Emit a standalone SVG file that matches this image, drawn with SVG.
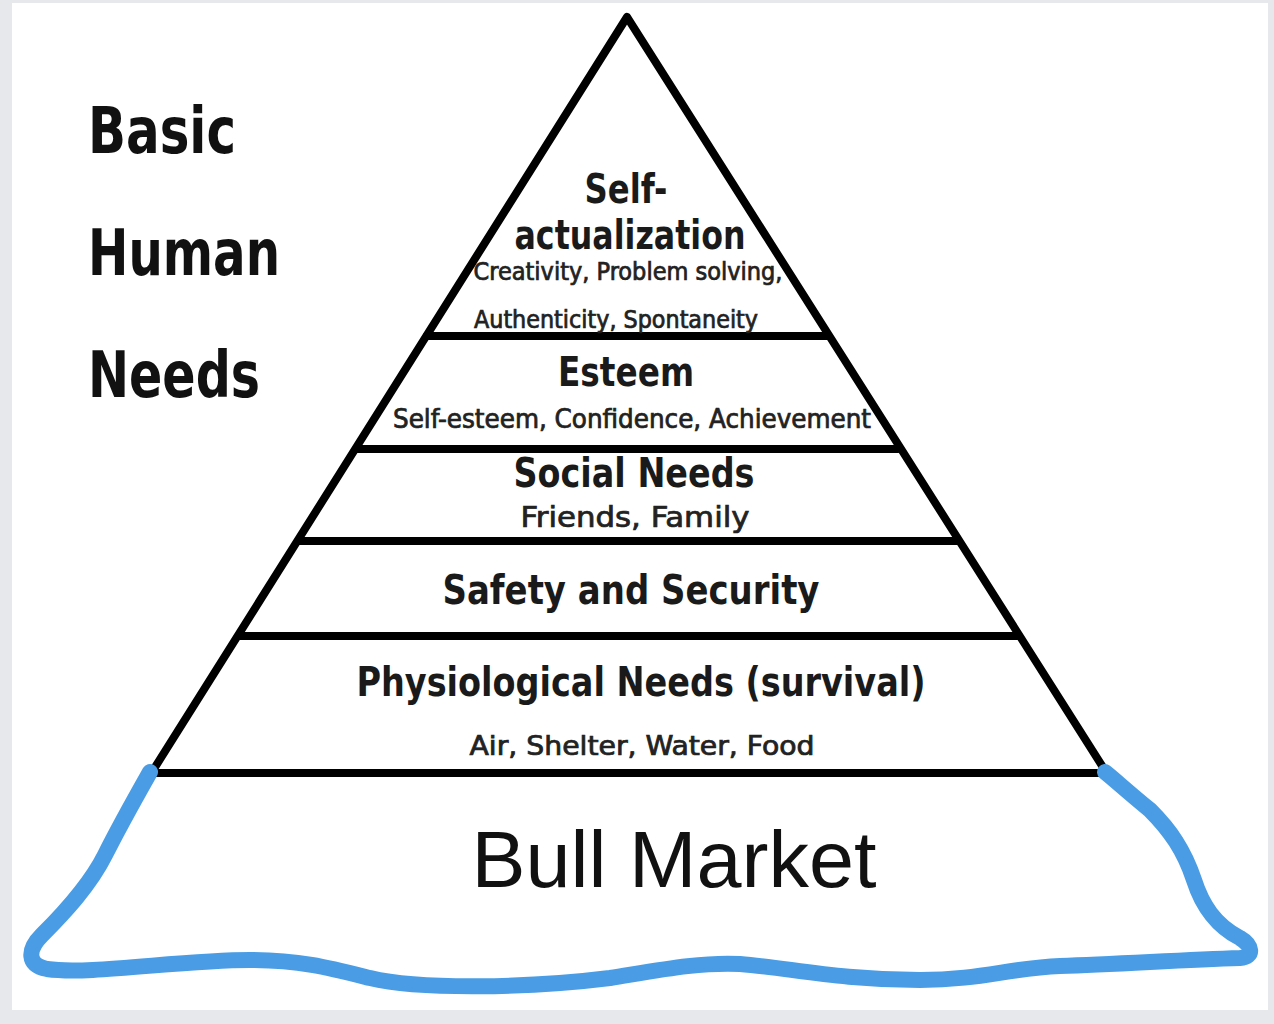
<svg xmlns="http://www.w3.org/2000/svg" width="1274" height="1024" viewBox="0 0 1274 1024">
<style>
.h{font-family:"DejaVu Sans Condensed","DejaVu Sans",sans-serif;font-weight:bold;fill:#111}
.t{font-family:"DejaVu Sans Condensed","DejaVu Sans",sans-serif;font-weight:bold;fill:#1a1a1a;text-anchor:middle}
.s{font-family:"DejaVu Sans Condensed","DejaVu Sans",sans-serif;font-weight:normal;fill:#222;stroke:#222;stroke-width:0.7;text-anchor:middle}
.ln{stroke:#000;stroke-width:8;fill:none;stroke-linecap:round;stroke-linejoin:round}
</style>
<rect x="0" y="0" width="1274" height="1024" fill="#e6e8eb"/>
<rect x="12" y="3" width="1256" height="1007" fill="#ffffff"/>

<g id="title">
<text class="h" x="88" y="153" font-size="64" textLength="148" lengthAdjust="spacingAndGlyphs">Basic</text>
<text class="h" x="88" y="275" font-size="64" textLength="192" lengthAdjust="spacingAndGlyphs">Human</text>
<text class="h" x="88" y="397" font-size="64" textLength="172" lengthAdjust="spacingAndGlyphs">Needs</text>
</g>

<g id="connectors">
<path class="ln" stroke-width="9" d="M152,772 L627,17 L1106,772"/>
<path class="ln" d="M427,336 L827,336"/>
<path class="ln" d="M357,449 L898,449"/>
<path class="ln" d="M299,541 L957,541"/>
<path class="ln" d="M239,636 L1017,636"/>
<path class="ln" d="M152,773 L1106,773"/>
</g>

<g id="self-actualization">
<text class="t" x="626" y="203" font-size="40" textLength="83" lengthAdjust="spacingAndGlyphs">Self-</text>
<text class="t" x="630" y="249" font-size="40" textLength="231" lengthAdjust="spacingAndGlyphs">actualization</text>
<text class="s" x="628" y="280" font-size="24" textLength="309" lengthAdjust="spacingAndGlyphs">Creativity, Problem solving,</text>
<text class="s" x="616" y="328" font-size="24" textLength="284" lengthAdjust="spacingAndGlyphs">Authenticity, Spontaneity</text>
</g>

<g id="esteem">
<text class="t" x="626" y="386" font-size="40" textLength="136" lengthAdjust="spacingAndGlyphs">Esteem</text>
<text class="s" x="632" y="428" font-size="26" textLength="478" lengthAdjust="spacingAndGlyphs">Self-esteem, Confidence, Achievement</text>
</g>

<g id="social">
<text class="t" x="634" y="487" font-size="40" textLength="241" lengthAdjust="spacingAndGlyphs">Social Needs</text>
<text class="s" x="635" y="527" font-size="29" textLength="229" lengthAdjust="spacingAndGlyphs">Friends, Family</text>
</g>

<g id="safety">
<text class="t" x="631" y="604" font-size="40" textLength="377" lengthAdjust="spacingAndGlyphs">Safety and Security</text>
</g>

<g id="physiological">
<text class="t" x="641" y="696" font-size="40" textLength="569" lengthAdjust="spacingAndGlyphs">Physiological Needs (survival)</text>
<text class="s" x="642" y="755" font-size="26" textLength="345" lengthAdjust="spacingAndGlyphs">Air, Shelter, Water, Food</text>
</g>

<g id="bull-market">
<path d="M150,772 C137,795 120,825 105,855 C90,885 65,912 42,935 C27,950 27,965 47,969 C90,975 180,960 250,960 C300,960 330,968 370,978 C420,990 530,988 610,978 C660,970 700,962 740,964 C790,968 840,980 920,980 C980,980 1010,968 1060,966 C1120,964 1180,960 1240,958 C1255,957 1252,945 1240,938 C1215,925 1202,905 1194,880 C1184,850 1170,830 1150,810 C1128,792 1115,780 1105,772" fill="none" stroke="#4a9de4" stroke-width="16" stroke-linecap="round" stroke-linejoin="round"/>
<text x="674" y="887" font-family="'Liberation Sans',Arial,sans-serif" font-size="80" fill="#111" text-anchor="middle" textLength="405" lengthAdjust="spacingAndGlyphs">Bull Market</text>
</g>
</svg>
